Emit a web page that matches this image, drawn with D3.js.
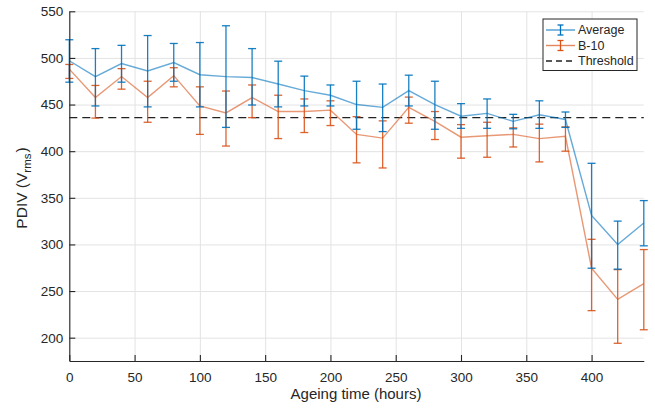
<!DOCTYPE html>
<html>
<head>
<meta charset="utf-8">
<script src="https://cdn.jsdelivr.net/npm/d3@7"></script>
<style>
  html, body { margin: 0; padding: 0; background: #fff; }
  svg { display: block; font-family: "Liberation Sans", Arial, Helvetica, sans-serif; }
</style>
</head>
<body>
<svg id="chart" width="655" height="412"></svg>
<script>
// Ageing time (hours)
const hours = [0, 20, 40, 60, 80, 100, 120, 140, 160, 180, 200, 220, 240, 260, 280, 300, 320, 340, 360, 380, 400, 420, 440];

// Average PDIV with lower / upper error-bar bounds (Vrms)
const avgPDIV  = [497, 480, 494, 486, 495, 482, 480, 479, 472, 465, 460, 450, 447, 465, 450, 437.5, 440.5, 432, 439, 434, 331, 300, 323];
const avgLower = [474, 448.5, 474, 447.5, 475, 447.5, 425.5, 449.5, 447.5, 448.5, 448.5, 423.5, 421, 448.5, 423.5, 424.5, 424.5, 424, 424.5, 425.5, 274.5, 273.5, 298.5];
const avgUpper = [519.5, 510, 513.5, 524, 515.5, 516.5, 534.5, 510, 496.5, 480.5, 471, 475, 472, 481.5, 475, 451, 456, 439.5, 454, 442, 387, 325, 347];

// Sample B-10 PDIV with lower / upper error-bar bounds (Vrms)
const b10PDIV  = [488, 457.5, 480, 457.5, 481, 448.5, 441, 457.5, 442.5, 442.5, 444, 418, 414, 447, 432, 415, 416.5, 418, 413.5, 416, 274.5, 241, 258];
const b10Lower = [478, 435.5, 466.5, 431, 469, 418, 405.5, 436, 413.5, 420, 427.5, 387.5, 382, 430, 412.5, 392.5, 393.5, 404.5, 388.5, 400, 229, 194, 208.5];
const b10Upper = [493, 470.5, 488.5, 475, 489.5, 469, 464.5, 471, 460, 456, 454, 437, 432.5, 458, 442.5, 428.5, 431, 425, 429, 426, 305.5, 273, 294.5];

// PDIV threshold (Vrms)
const threshold = 436;

// Axis ticks
const xTicks = [0, 50, 100, 150, 200, 250, 300, 350, 400];
const yTicks = [200, 250, 300, 350, 400, 450, 500, 550];

const seriesNames = ["Average", "B-10", "Threshold"];
const colors = { avg: "#0072BD", b10: "#D95319" };

const svg = d3.select("#chart");
const margin = { left: 69.3, top: 11.3 };
const plotW = 643.8 - margin.left;
const plotH = 361 - margin.top;

const g = svg.append("g").attr("transform", `translate(${margin.left},${margin.top})`);

const x = d3.scaleLinear().domain([0, 440]).range([0, plotW]);
const y = d3.scaleLinear().domain([175, 550]).range([plotH, 0]);

// Grid
const gridColor = "#e3e3e3";
g.append("g")
  .attr("transform", `translate(0,${plotH})`)
  .call(d3.axisBottom(x).tickValues(xTicks).tickSize(-plotH).tickFormat(""))
  .call(s => s.select(".domain").remove())
  .call(s => s.selectAll("line").attr("stroke", gridColor).attr("stroke-width", 1));
g.append("g")
  .call(d3.axisLeft(y).tickValues(yTicks).tickSize(-plotW).tickFormat(""))
  .call(s => s.select(".domain").remove())
  .call(s => s.selectAll("line").attr("stroke", gridColor).attr("stroke-width", 1));

// Threshold
g.append("line")
  .attr("x1", 0).attr("x2", plotW)
  .attr("y1", y(threshold)).attr("y2", y(threshold))
  .attr("stroke", "#222").attr("stroke-width", 1.3)
  .attr("stroke-dasharray", "8,5");

// Series with error bars
function drawSeries(vals, lo, hi, color) {
  const pts = hours.map((h, i) => ({ h, v: vals[i], lo: lo[i], hi: hi[i] }));
  const cap = 4;
  const eb = g.append("g").attr("stroke", color).attr("stroke-width", 1.3).attr("stroke-opacity", 0.9);
  pts.forEach(p => {
    const cx = x(p.h);
    eb.append("line").attr("x1", cx).attr("x2", cx).attr("y1", y(p.lo)).attr("y2", y(p.hi));
    eb.append("line").attr("x1", cx - cap).attr("x2", cx + cap).attr("y1", y(p.lo)).attr("y2", y(p.lo));
    eb.append("line").attr("x1", cx - cap).attr("x2", cx + cap).attr("y1", y(p.hi)).attr("y2", y(p.hi));
  });
  g.append("path")
    .datum(pts)
    .attr("fill", "none")
    .attr("stroke", color)
    .attr("stroke-width", 1.4)
    .attr("stroke-opacity", 0.6)
    .attr("d", d3.line().x(p => x(p.h)).y(p => y(p.v)));
}
drawSeries(b10PDIV, b10Lower, b10Upper, colors.b10);
drawSeries(avgPDIV, avgLower, avgUpper, colors.avg);

// Axes
const axisColor = "#262626";
const xAxis = g.append("g")
  .attr("transform", `translate(0,${plotH})`)
  .call(d3.axisBottom(x).tickValues(xTicks).tickSize(-6).tickSizeOuter(0).tickPadding(11));
const yAxis = g.append("g")
  .call(d3.axisLeft(y).tickValues(yTicks).tickSize(-6).tickSizeOuter(0).tickPadding(6));
[xAxis, yAxis].forEach(a => {
  a.select(".domain").attr("stroke", axisColor).attr("stroke-width", 1.1);
  a.selectAll(".tick line").attr("stroke", axisColor).attr("stroke-width", 1.1);
  a.selectAll("text").attr("fill", "#262626").attr("font-size", "13.5px")
    .attr("font-family", "'Liberation Sans', Arial, sans-serif");
});

// Axis labels
svg.append("text")
  .attr("x", 356).attr("y", 399)
  .attr("text-anchor", "middle")
  .attr("font-size", "15px").attr("fill", "#262626")
  .text("Ageing time (hours)");

const yl = svg.append("text")
  .attr("transform", `translate(26.5,188) rotate(-90)`)
  .attr("text-anchor", "middle")
  .attr("font-size", "15.5px").attr("fill", "#262626");
yl.append("tspan").text("PDIV (V");
yl.append("tspan").attr("font-size", "11.5px").attr("dy", 4.5).text("rms");
yl.append("tspan").attr("dx", 1).attr("dy", -4.5).text(")");

// Legend
const lg = svg.append("g").attr("transform", "translate(543,19)");
lg.append("rect").attr("width", 94).attr("height", 51.5)
  .attr("fill", "#fff").attr("stroke", "#262626").attr("stroke-width", 1);
const rows = [
  { name: seriesNames[0], color: colors.avg, type: "err", cy: 11 },
  { name: seriesNames[1], color: colors.b10, type: "err", cy: 26.5 },
  { name: seriesNames[2], color: "#222", type: "dash", cy: 42 }
];
rows.forEach(r => {
  const row = lg.append("g");
  if (r.type === "err") {
    row.append("line").attr("x1", 3).attr("x2", 32).attr("y1", r.cy).attr("y2", r.cy)
      .attr("stroke", r.color).attr("stroke-width", 1.4).attr("stroke-opacity", 0.7);
    row.append("line").attr("x1", 17.5).attr("x2", 17.5).attr("y1", r.cy - 5).attr("y2", r.cy + 5)
      .attr("stroke", r.color).attr("stroke-width", 1.3);
    [r.cy - 5, r.cy + 5].forEach(yy => row.append("line")
      .attr("x1", 14.5).attr("x2", 20.5).attr("y1", yy).attr("y2", yy)
      .attr("stroke", r.color).attr("stroke-width", 1.3));
  } else {
    row.append("line").attr("x1", 3).attr("x2", 32).attr("y1", r.cy).attr("y2", r.cy)
      .attr("stroke", r.color).attr("stroke-width", 1.3).attr("stroke-dasharray", "6,4");
  }
  row.append("text").attr("x", 35).attr("y", r.cy).attr("dy", "0.35em")
    .attr("font-size", "12.5px").attr("fill", "#262626").text(r.name);
});
</script>
</body>
</html>
